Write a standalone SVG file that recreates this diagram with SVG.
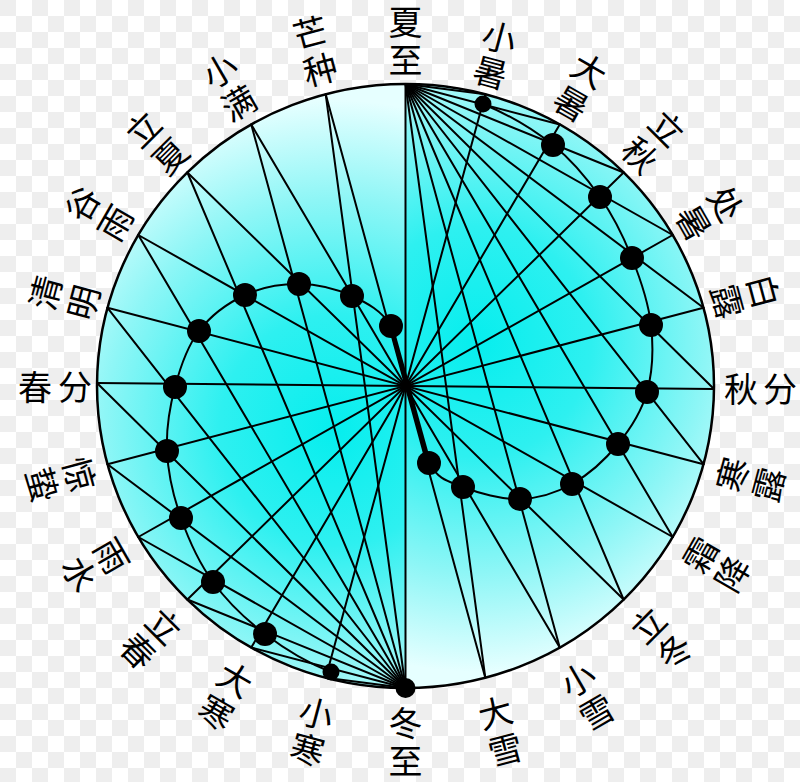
<svg xmlns="http://www.w3.org/2000/svg" width="800" height="782" viewBox="0 0 800 782">
<defs>
<pattern id="chk" width="32" height="32" patternUnits="userSpaceOnUse">
<rect width="32" height="32" fill="#ffffff"/>
<rect width="16" height="16" fill="#eeeeee"/>
<rect x="16" y="16" width="16" height="16" fill="#eeeeee"/>
</pattern>
<radialGradient id="gL" gradientUnits="userSpaceOnUse" cx="335" cy="430" r="330">
<stop offset="0" stop-color="#06eeee"/>
<stop offset="0.35" stop-color="#2ef0f0"/>
<stop offset="0.7" stop-color="#8ef6f6"/>
<stop offset="1" stop-color="#e6ffff"/>
</radialGradient>
<radialGradient id="gR" gradientUnits="userSpaceOnUse" cx="476" cy="342" r="330">
<stop offset="0" stop-color="#06eeee"/>
<stop offset="0.35" stop-color="#2ef0f0"/>
<stop offset="0.7" stop-color="#8ef6f6"/>
<stop offset="1" stop-color="#e6ffff"/>
</radialGradient>
<style>
.ln{stroke:#000;stroke-width:2;fill:none;stroke-linecap:round}
.cv{stroke:#000;stroke-width:2;fill:none}
.dot{fill:#000}
.lb{font-family:"Noto Sans CJK SC","Noto Sans CJK TC",sans-serif;font-size:34px;fill:#000;text-anchor:middle;dominant-baseline:central}
</style>
</defs>
<rect width="800" height="782" fill="url(#chk)"/>
<g id="disc">
<path d="M405.5,84 A308.5,302 0 0 0 405.5,688 Z" fill="url(#gL)"/>
<path d="M405.5,84 A308.5,302 0 0 1 405.5,688 Z" fill="url(#gR)"/>
<ellipse cx="405.5" cy="386" rx="308.5" ry="302" fill="none" stroke="#000" stroke-width="2.5"/>
</g>
<g id="connectors">
<line class="ln" x1="405.5" y1="84" x2="405.5" y2="688"/>
<line class="ln" x1="485.3" y1="94.3" x2="325.7" y2="677.7"/>
<line class="ln" x1="559.75" y1="124.5" x2="251.25" y2="647.5"/>
<line class="ln" x1="623.6" y1="172.5" x2="187.4" y2="599.5"/>
<line class="ln" x1="672.7" y1="235" x2="138.3" y2="537"/>
<line class="ln" x1="703.5" y1="307.8" x2="107.5" y2="464.2"/>
<line class="ln" x1="714" y1="389" x2="97" y2="383"/>
<line class="ln" x1="703.5" y1="464.2" x2="107.5" y2="307.8"/>
<line class="ln" x1="672.7" y1="537" x2="138.3" y2="235"/>
<line class="ln" x1="623.6" y1="599.5" x2="187.4" y2="172.5"/>
<line class="ln" x1="559.75" y1="647.5" x2="251.25" y2="124.5"/>
<line class="ln" x1="485.3" y1="677.7" x2="325.7" y2="94.3"/>
<line class="ln" x1="405.5" y1="84" x2="485.3" y2="94.3"/>
<line class="ln" x1="405.5" y1="84" x2="559.75" y2="124.5"/>
<line class="ln" x1="405.5" y1="84" x2="623.6" y2="172.5"/>
<line class="ln" x1="405.5" y1="84" x2="672.7" y2="235"/>
<line class="ln" x1="405.5" y1="84" x2="703.5" y2="307.8"/>
<line class="ln" x1="405.5" y1="84" x2="714" y2="389"/>
<line class="ln" x1="405.5" y1="84" x2="703.5" y2="464.2"/>
<line class="ln" x1="405.5" y1="84" x2="672.7" y2="537"/>
<line class="ln" x1="405.5" y1="84" x2="623.6" y2="599.5"/>
<line class="ln" x1="405.5" y1="84" x2="559.75" y2="647.5"/>
<line class="ln" x1="405.5" y1="84" x2="485.3" y2="677.7"/>
<line class="ln" x1="405.5" y1="688" x2="325.7" y2="677.7"/>
<line class="ln" x1="405.5" y1="688" x2="251.25" y2="647.5"/>
<line class="ln" x1="405.5" y1="688" x2="187.4" y2="599.5"/>
<line class="ln" x1="405.5" y1="688" x2="138.3" y2="537"/>
<line class="ln" x1="405.5" y1="688" x2="107.5" y2="464.2"/>
<line class="ln" x1="405.5" y1="688" x2="97" y2="383"/>
<line class="ln" x1="405.5" y1="688" x2="107.5" y2="307.8"/>
<line class="ln" x1="405.5" y1="688" x2="138.3" y2="235"/>
<line class="ln" x1="405.5" y1="688" x2="187.4" y2="172.5"/>
<line class="ln" x1="405.5" y1="688" x2="251.25" y2="124.5"/>
<line class="ln" x1="405.5" y1="688" x2="325.7" y2="94.3"/>
<path class="cv" d="M429,463 C438.5,479.8 447.8,481 463,487 C478.2,493 501.8,499.5 520,499 C538.2,498.5 555.7,493.2 572,484 C588.3,474.8 605.5,459.3 618,444 C630.5,428.7 641.5,411.8 647,392 C652.5,372.2 653.5,347.3 651,325 C648.5,302.7 640.5,279.3 632,258 C623.5,236.7 613.2,215.8 600,197 C586.8,178.2 572.5,160.5 553,145 C533.5,129.5 507.6,114.2 483,104"/>
<path class="cv" d="M391,326 C382,311 367.3,303 352,296 C336.7,289 316.8,284.2 299,284 C281.2,283.8 261.7,287.2 245,295 C228.3,302.8 210.7,315.7 199,331 C187.3,346.3 180.3,367 175,387 C169.7,407 166,429.2 167,451 C168,472.8 173.3,496.2 181,518 C188.7,539.8 199,562.7 213,582 C227,601.3 245.3,619 265,634 C284.7,649 307.5,663 331,672"/>
<line x1="391" y1="326" x2="429" y2="463" stroke="#000" stroke-width="4.5"/>
</g>
<g id="xiazhi"><text class="lb" transform="translate(405.5 20)">夏</text><text class="lb" transform="translate(405.5 58)">至</text></g>
<g id="xiaoshu"><circle class="dot" cx="483" cy="104" r="8.5"/><text class="lb" transform="translate(500 36) rotate(15)">小</text><text class="lb" transform="translate(491 71) rotate(15)">暑</text></g>
<g id="dashu"><circle class="dot" cx="553" cy="145" r="12"/><text class="lb" transform="translate(590 69) rotate(30)">大</text><text class="lb" transform="translate(572 102) rotate(30)">暑</text></g>
<g id="liqiu"><circle class="dot" cx="600" cy="197" r="12"/><text class="lb" transform="translate(668 127) rotate(45)">立</text><text class="lb" transform="translate(641 154) rotate(45)">秋</text></g>
<g id="chushu"><circle class="dot" cx="632" cy="258" r="12"/><text class="lb" transform="translate(727 203) rotate(60)">处</text><text class="lb" transform="translate(695 222) rotate(60)">暑</text></g>
<g id="bailu"><circle class="dot" cx="651" cy="325" r="12"/><text class="lb" transform="translate(765 291) rotate(75)">白</text><text class="lb" transform="translate(729 301) rotate(75)">露</text></g>
<g id="qiufen"><circle class="dot" cx="647" cy="392" r="12"/><text class="lb" transform="translate(741 387)">秋</text><text class="lb" transform="translate(780 387)">分</text></g>
<g id="hanlu"><circle class="dot" cx="618" cy="444" r="12"/><text class="lb" transform="translate(731 474) rotate(-75)">寒</text><text class="lb" transform="translate(767 484) rotate(-75)">露</text></g>
<g id="shuangjiang"><circle class="dot" cx="572" cy="484" r="12"/><text class="lb" transform="translate(699 554) rotate(-60)">霜</text><text class="lb" transform="translate(731 573) rotate(-60)">降</text></g>
<g id="lidong"><circle class="dot" cx="520" cy="499" r="12"/><text class="lb" transform="translate(647 624) rotate(-45)">立</text><text class="lb" transform="translate(673 650) rotate(-45)">冬</text></g>
<g id="xiaoxue"><circle class="dot" cx="463" cy="487" r="12"/><text class="lb" transform="translate(577 678) rotate(-30)">小</text><text class="lb" transform="translate(596 711) rotate(-30)">雪</text></g>
<g id="daxue"><circle class="dot" cx="429" cy="463" r="12"/><text class="lb" transform="translate(495 711) rotate(-15)">大</text><text class="lb" transform="translate(505 748) rotate(-15)">雪</text></g>
<g id="dongzhi"><circle class="dot" cx="405.5" cy="688" r="10"/><text class="lb" transform="translate(405.5 721)">冬</text><text class="lb" transform="translate(405.5 759)">至</text></g>
<g id="xiaohan"><circle class="dot" cx="331" cy="672" r="8.5"/><text class="lb" transform="translate(317 712) rotate(15)">小</text><text class="lb" transform="translate(308 748) rotate(15)">寒</text></g>
<g id="dahan"><circle class="dot" cx="265" cy="634" r="12"/><text class="lb" transform="translate(236 678) rotate(30)">大</text><text class="lb" transform="translate(217 711) rotate(30)">寒</text></g>
<g id="lichun"><circle class="dot" cx="213" cy="582" r="12"/><text class="lb" transform="translate(165 625) rotate(45)">立</text><text class="lb" transform="translate(139 650) rotate(45)">春</text></g>
<g id="yushui"><circle class="dot" cx="181" cy="518" r="12"/><text class="lb" transform="translate(113 555) rotate(60)">雨</text><text class="lb" transform="translate(81 573) rotate(60)">水</text></g>
<g id="jingzhe"><circle class="dot" cx="167" cy="451" r="12"/><text class="lb" transform="translate(81 474) rotate(75)">惊</text><text class="lb" transform="translate(44 484) rotate(75)">蛰</text></g>
<g id="chunfen"><circle class="dot" cx="175" cy="387" r="12"/><text class="lb" transform="translate(35 385)">春</text><text class="lb" transform="translate(75 385)">分</text></g>
<g id="qingming"><circle class="dot" cx="199" cy="331" r="12"/><text class="lb" transform="translate(44 292) rotate(-75)">清</text><text class="lb" transform="translate(82 302) rotate(-75)">明</text></g>
<g id="guyu"><circle class="dot" cx="245" cy="295" r="12"/><text class="lb" transform="translate(81 203) rotate(-60)">谷</text><text class="lb" transform="translate(114 222) rotate(-60)">雨</text></g>
<g id="lixia"><circle class="dot" cx="299" cy="284" r="12"/><text class="lb" transform="translate(142 128) rotate(-45)">立</text><text class="lb" transform="translate(169 155) rotate(-45)">夏</text></g>
<g id="xiaoman"><circle class="dot" cx="352" cy="296" r="12"/><text class="lb" transform="translate(219 69) rotate(-30)">小</text><text class="lb" transform="translate(238 102) rotate(-30)">满</text></g>
<g id="mangzhong"><circle class="dot" cx="391" cy="326" r="12"/><text class="lb" transform="translate(310 31) rotate(-15)">芒</text><text class="lb" transform="translate(320 68) rotate(-15)">种</text></g>
</svg>
